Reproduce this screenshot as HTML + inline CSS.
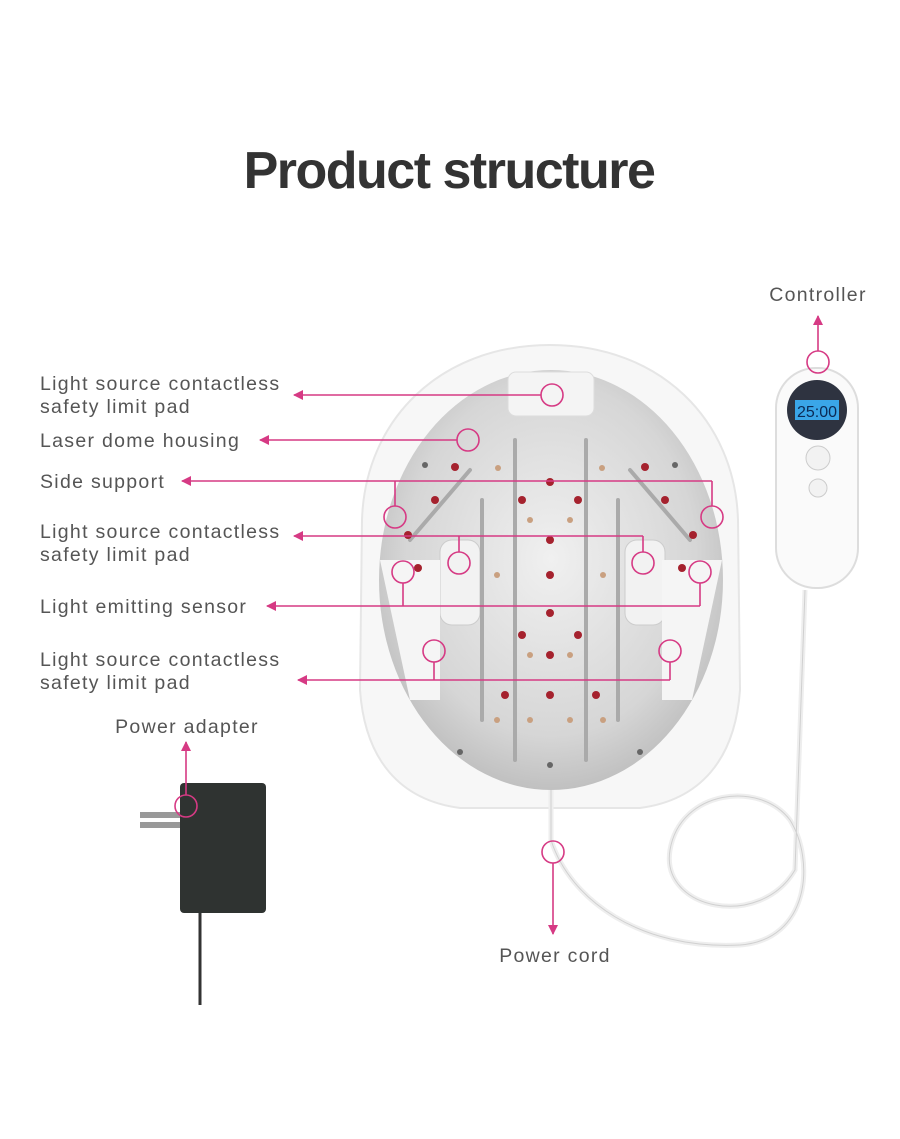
<!DOCTYPE html>
<html><head><meta charset="utf-8"><style>
body{margin:0;background:#fff;}
svg{display:block}
text{font-family:"Liberation Sans",sans-serif;}
</style></head><body>
<svg width="900" height="1139" viewBox="0 0 900 1139">
<defs>
<radialGradient id="dome" cx="50%" cy="45%" r="60%">
<stop offset="0" stop-color="#f0f0f0"/><stop offset="0.7" stop-color="#d6d6d6"/><stop offset="1" stop-color="#b8b8b8"/>
</radialGradient>
<marker id="ar" markerWidth="10" markerHeight="10" refX="9" refY="5" orient="auto" markerUnits="userSpaceOnUse">
<path d="M0,0 L10,5 L0,10 Z" fill="#d63a84"/></marker>
</defs>
<text x="449" y="188" text-anchor="middle" font-size="52" font-weight="bold" fill="#333" letter-spacing="-1.5">Product structure</text>

<path d="M550,345 C660,345 735,420 738,520 L740,690 C735,760 700,800 640,808 L460,808 C400,800 365,760 360,690 L362,520 C365,420 440,345 550,345 Z" fill="#f7f7f7" stroke="#e6e6e6" stroke-width="2"/>
<ellipse cx="551" cy="580" rx="172" ry="210" fill="url(#dome)"/>
<rect x="508" y="372" width="86" height="44" rx="8" fill="#f4f4f4" stroke="#ddd"/>
<rect x="440" y="540" width="40" height="85" rx="12" fill="#f2f2f2" stroke="#ccc"/>
<rect x="625" y="540" width="40" height="85" rx="12" fill="#f2f2f2" stroke="#ccc"/>
<path d="M380,560 L440,560 L440,700 L410,700 Z" fill="#f5f5f5"/>
<path d="M722,560 L662,560 L662,700 L692,700 Z" fill="#f5f5f5"/>
<g stroke="#aaa" stroke-width="4" stroke-linecap="round">
<line x1="515" y1="440" x2="515" y2="760"/><line x1="586" y1="440" x2="586" y2="760"/>
<line x1="482" y1="500" x2="482" y2="720"/><line x1="618" y1="500" x2="618" y2="720"/>
<line x1="470" y1="470" x2="410" y2="540"/><line x1="630" y1="470" x2="690" y2="540"/>
</g>
<g fill="#a5222e">
<circle cx="550" cy="482" r="4"/><circle cx="550" cy="540" r="4"/><circle cx="550" cy="575" r="4"/><circle cx="550" cy="613" r="4"/><circle cx="550" cy="655" r="4"/><circle cx="550" cy="695" r="4"/>
<circle cx="522" cy="500" r="4"/><circle cx="578" cy="500" r="4"/><circle cx="522" cy="635" r="4"/><circle cx="578" cy="635" r="4"/>
<circle cx="455" cy="467" r="4"/><circle cx="645" cy="467" r="4"/><circle cx="435" cy="500" r="4"/><circle cx="665" cy="500" r="4"/>
<circle cx="408" cy="535" r="4"/><circle cx="693" cy="535" r="4"/><circle cx="418" cy="568" r="4"/><circle cx="682" cy="568" r="4"/>
<circle cx="505" cy="695" r="4"/><circle cx="596" cy="695" r="4"/>
</g>
<g fill="#c9a080">
<circle cx="498" cy="468" r="3"/><circle cx="602" cy="468" r="3"/><circle cx="530" cy="520" r="3"/><circle cx="570" cy="520" r="3"/>
<circle cx="497" cy="575" r="3"/><circle cx="603" cy="575" r="3"/><circle cx="530" cy="655" r="3"/><circle cx="570" cy="655" r="3"/>
<circle cx="497" cy="720" r="3"/><circle cx="603" cy="720" r="3"/><circle cx="530" cy="720" r="3"/><circle cx="570" cy="720" r="3"/>
</g>
<g fill="#666"><circle cx="460" cy="752" r="3"/><circle cx="640" cy="752" r="3"/><circle cx="550" cy="765" r="3"/><circle cx="425" cy="465" r="3"/><circle cx="675" cy="465" r="3"/></g>

<path d="M551,790 L551,840 C570,900 640,950 740,945 C810,940 815,860 790,820 C760,780 680,790 670,850 C660,910 760,930 795,870 L805,590" fill="none" stroke="#eee" stroke-width="5"/>
<path d="M551,790 L551,840 C570,900 640,950 740,945 C810,940 815,860 790,820 C760,780 680,790 670,850 C660,910 760,930 795,870 L805,590" fill="none" stroke="#d0d0d0" stroke-width="1"/>

<rect x="776" y="368" width="82" height="220" rx="40" fill="#fafafa" stroke="#ddd" stroke-width="2"/>
<circle cx="817" cy="410" r="30" fill="#2e3340"/>
<rect x="795" y="400" width="44" height="20" fill="#3aa6e8"/>
<text x="817" y="417" text-anchor="middle" font-size="16" fill="#0b2a55" font-family="Liberation Mono">25:00</text>
<circle cx="818" cy="458" r="12" fill="#f2f2f2" stroke="#ccc"/>
<circle cx="818" cy="488" r="9" fill="#f2f2f2" stroke="#ccc"/>

<rect x="140" y="812" width="42" height="6" fill="#999"/><rect x="140" y="822" width="42" height="6" fill="#999"/>
<rect x="180" y="783" width="86" height="130" rx="4" fill="#2f3331"/>
<line x1="200" y1="913" x2="200" y2="1005" stroke="#333" stroke-width="3"/>

<g font-size="19.5" fill="#555" letter-spacing="1.3">
<text x="40" y="390">Light source contactless</text><text x="40" y="413">safety limit pad</text>
<text x="40" y="447">Laser dome housing</text>
<text x="40" y="488">Side support</text>
<text x="40" y="538">Light source contactless</text><text x="40" y="561">safety limit pad</text>
<text x="40" y="613">Light emitting sensor</text>
<text x="40" y="666">Light source contactless</text><text x="40" y="689">safety limit pad</text>
<text x="818" y="301" text-anchor="middle">Controller</text>
<text x="187" y="733" text-anchor="middle">Power adapter</text>
<text x="555" y="962" text-anchor="middle">Power cord</text>
</g>

<g stroke="#d63a84" stroke-width="1.6" fill="none">
<circle cx="552" cy="395" r="11"/><line x1="541" y1="395" x2="294" y2="395" marker-end="url(#ar)"/>
<circle cx="468" cy="440" r="11"/><line x1="457" y1="440" x2="260" y2="440" marker-end="url(#ar)"/>
<line x1="712" y1="481" x2="182" y2="481" marker-end="url(#ar)"/>
<line x1="395" y1="481" x2="395" y2="506"/><circle cx="395" cy="517" r="11"/>
<line x1="712" y1="481" x2="712" y2="506"/><circle cx="712" cy="517" r="11"/>
<line x1="643" y1="536" x2="294" y2="536" marker-end="url(#ar)"/>
<line x1="459" y1="536" x2="459" y2="552"/><circle cx="459" cy="563" r="11"/>
<line x1="643" y1="536" x2="643" y2="552"/><circle cx="643" cy="563" r="11"/>
<line x1="700" y1="606" x2="267" y2="606" marker-end="url(#ar)"/>
<line x1="403" y1="606" x2="403" y2="583"/><circle cx="403" cy="572" r="11"/>
<line x1="700" y1="606" x2="700" y2="583"/><circle cx="700" cy="572" r="11"/>
<line x1="670" y1="680" x2="298" y2="680" marker-end="url(#ar)"/>
<line x1="434" y1="680" x2="434" y2="662"/><circle cx="434" cy="651" r="11"/>
<line x1="670" y1="680" x2="670" y2="662"/><circle cx="670" cy="651" r="11"/>
<circle cx="818" cy="362" r="11"/><line x1="818" y1="351" x2="818" y2="316" marker-end="url(#ar)"/>
<circle cx="186" cy="806" r="11"/><line x1="186" y1="795" x2="186" y2="742" marker-end="url(#ar)"/>
<circle cx="553" cy="852" r="11"/><line x1="553" y1="863" x2="553" y2="934" marker-end="url(#ar)"/>
</g>
</svg>
</body></html>
